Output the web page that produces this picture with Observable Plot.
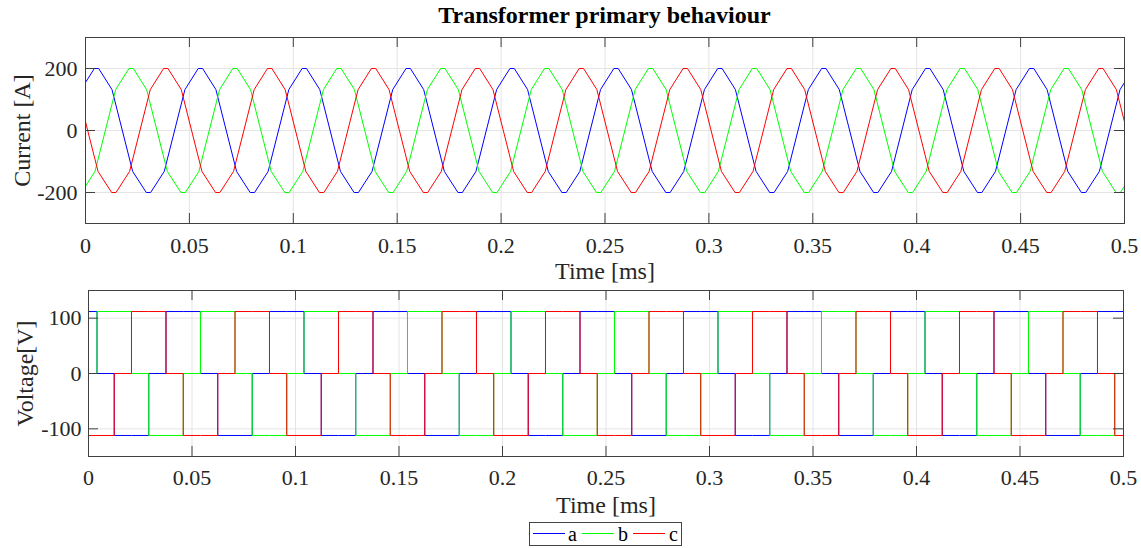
<!DOCTYPE html>
<html><head><meta charset="utf-8">
<script src="https://cdn.jsdelivr.net/npm/d3@7"></script>
<script src="https://cdn.jsdelivr.net/npm/@observablehq/plot@0.6"></script>
<style>
html,body{margin:0;padding:0;background:#fff;}
#root{position:relative;width:1141px;height:548px;overflow:hidden;font-family:"Liberation Serif","Times New Roman",serif;color:#000;}
#title{position:absolute;left:85px;width:1039px;top:3px;text-align:center;font-weight:bold;font-size:24px;line-height:24px;}
#legend{position:absolute;left:529px;top:522px;width:151px;height:22px;border:1px solid #444;background:#fff;}
#legend .sw{position:absolute;top:10px;height:1px;width:32px;}
#legend .lab{position:absolute;top:0;font-size:20px;line-height:22px;color:#000;}
</style></head>
<body><div id="root"><div id="title">Transformer primary behaviour</div></div>
<script>
// ---- data ----
const phases = ["a", "b", "c"];
const phaseColors = ["#0000ff", "#00ff00", "#ff0000"];
const phaseLag = [0, 1/3, 2/3];          // lag of each phase, fraction of a period
const period = 0.05;                      // ms
const timeDomain = [0, 0.5];
const timeTicks = [0, 0.05, 0.1, 0.15, 0.2, 0.25, 0.3, 0.35, 0.4, 0.45, 0.5];
const timeTickLabels = ["0", "0.05", "0.1", "0.15", "0.2", "0.25", "0.3", "0.35", "0.4", "0.45", "0.5"];
const currentDomain = [-300, 300];
const currentTicks = [-200, 0, 200];
const voltageDomain = [-150, 150];
const voltageTicks = [-100, 0, 100];

// current of phase a over one period: breakpoints relative to its positive peak
const currentPeakTime = 0.0053;
const currentShapeT = [-0.021, 0.021, 0.149, 0.348, 0.479, 0.521, 0.652, 0.851, 0.979];
const currentShapeV = [200, 200, 132, -132, -200, -200, -132, 132, 200];

// voltage of phase a: level in each sixth of a period, from its first edge
const voltageEdgeTime = 0.0041;
const voltageLevels = [0, -112, -112, 0, 112, 112];

// ---- build rows (periodic steady state) ----
const currentRows = [];
const voltageRows = [];
phases.forEach((p, i) => {
  for (let k = -2; k <= 11; k++) {
    for (let j = 0; j < currentShapeT.length - 1; j++) {
      currentRows.push({phase: p, t: currentPeakTime + (k + phaseLag[i] + currentShapeT[j]) * period, v: currentShapeV[j]});
    }
    for (let j = 0; j < voltageLevels.length; j++) {
      voltageRows.push({phase: p, t: voltageEdgeTime + (k + phaseLag[i] + j / voltageLevels.length) * period, v: voltageLevels[j]});
    }
  }
});

const xFmt = d => timeTickLabels[timeTicks.indexOf(d)];
const yFmt = d => String(d);
const axisCol = "#404040";
const gridCol = "#e4e4e4";

function panel({height, top, marginTop, marginBottom, marginLeft, marginRight, yDomain, yTicks, rows, curve, ylabel, ylabelDx, tickPadX, tickPadY, xlabelDy}) {
  const innerH = height - marginTop - marginBottom;
  const innerW = 1141 - marginLeft - marginRight;
  const tl = 10;
  const chart = Plot.plot({
    width: 1141, height,
    marginTop, marginBottom, marginLeft, marginRight,
    style: {fontFamily: "Liberation Serif, Times New Roman, serif", fontSize: "22px", color: "#262626", background: "transparent", overflow: "visible"},
    x: {domain: timeDomain},
    y: {domain: yDomain},
    color: {domain: phases, range: phaseColors},
    marks: [
      Plot.gridX(timeTicks, {stroke: gridCol, strokeOpacity: 1}),
      Plot.gridY(yTicks, {stroke: gridCol, strokeOpacity: 1}),
      Plot.line(rows, {x: "t", y: "v", z: "phase", stroke: "phase", strokeWidth: 1, curve, clip: true}),
      Plot.ruleX(timeTicks, {stroke: axisCol, insetBottom: innerH - tl}),
      Plot.ruleX(timeTicks, {stroke: axisCol, insetTop: innerH - tl}),
      Plot.ruleY(yTicks, {stroke: axisCol, insetRight: innerW - tl}),
      Plot.ruleY(yTicks, {stroke: axisCol, insetLeft: innerW - tl}),
      Plot.frame({stroke: axisCol}),
      Plot.axisX(timeTicks, {tickSize: 0, tickPadding: tickPadX, tickFormat: xFmt, label: null, fontSize: 22}),
      Plot.axisY(yTicks, {tickSize: 0, tickPadding: tickPadY, tickFormat: yFmt, label: null, fontSize: 22}),
      Plot.text(["Time [ms]"], {frameAnchor: "bottom", dy: xlabelDy, fontSize: 24, fill: "#262626", textAnchor: "middle", lineAnchor: "middle"}),
      Plot.text([ylabel], {frameAnchor: "left", dx: ylabelDx, rotate: -90, fontSize: 24, fill: "#262626", textAnchor: "middle", lineAnchor: "middle"})
    ]
  });
  chart.style.position = "absolute";
  chart.style.top = top + "px";
  chart.style.left = "0px";
  return chart;
}

const root = document.getElementById("root");
root.appendChild(panel({height: 285, top: 0, marginTop: 37, marginBottom: 62, marginLeft: 85, marginRight: 17,
  yDomain: currentDomain, yTicks: currentTicks, rows: currentRows, curve: "linear",
  ylabel: "Current [A]", ylabelDx: -63, tickPadX: 14, tickPadY: 8, xlabelDy: 48}));
root.appendChild(panel({height: 235, top: 285, marginTop: 5, marginBottom: 64, marginLeft: 88, marginRight: 18,
  yDomain: voltageDomain, yTicks: voltageTicks, rows: voltageRows, curve: "step-after",
  ylabel: "Voltage[V]", ylabelDx: -63, tickPadX: 13, tickPadY: 7, xlabelDy: 49}));

// legend
const legend = document.createElement("div");
legend.id = "legend";
const swX = [3, 52, 103];
const labX = [38, 88, 139];
phases.forEach((p, i) => {
  const sw = document.createElement("div");
  sw.className = "sw"; sw.style.left = swX[i] + "px"; sw.style.background = phaseColors[i];
  const lab = document.createElement("div");
  lab.className = "lab"; lab.style.left = labX[i] + "px"; lab.textContent = p;
  legend.appendChild(sw); legend.appendChild(lab);
});
root.appendChild(legend);
</script></body></html>
